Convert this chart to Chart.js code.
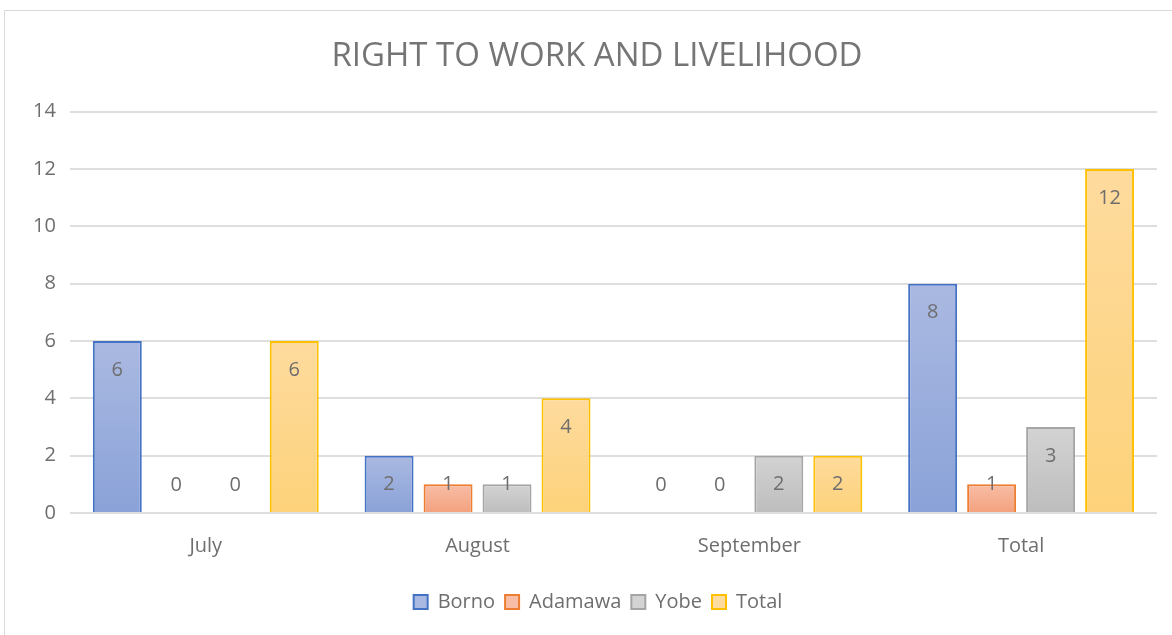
<!DOCTYPE html>
<html>
<head>
<meta charset="utf-8">
<script src="https://cdn.jsdelivr.net/npm/chart.js@4"></script>
<style>
  html, body { margin: 0; padding: 0; background: #fff; }
  #wrap { width: 1172px; height: 635px; position: relative; }
</style>
</head>
<body>
<div id="wrap"><canvas id="chart"></canvas></div>
<script>
const categories = ['July', 'August', 'September', 'Total'];
const seriesNames = ['Borno', 'Adamawa', 'Yobe', 'Total'];
const bornoValues = [6, 2, 0, 8];
const adamawaValues = [0, 1, 0, 1];
const yobeValues = [0, 1, 2, 3];
const totalValues = [6, 4, 2, 12];
const yTicks = [0, 2, 4, 6, 8, 10, 12, 14];

const FONT = "'Open Sans', sans-serif";
const TEXT = '#6e6e6e';

// top colour, bottom colour, border
const palette = [
    ['#aab9e1', '#8aa2d8', '#4472c4'],
    ['#f7bda5', '#f4a17e', '#ed7d31'],
    ['#d3d3d3', '#bdbdbd', '#a5a5a5'],
    ['#fedb9e', '#fdd27a', '#ffc000']
];

function barGradient(idx) {
    return function(ctx) {
        const chart = ctx.chart;
        const y = chart.scales.y;
        if (!y || ctx.raw === undefined) return palette[idx][1];
        const top = y.getPixelForValue(ctx.raw);
        const base = y.getPixelForValue(0);
        if (base - top < 1) return palette[idx][1];
        const g = chart.ctx.createLinearGradient(0, top, 0, base);
        g.addColorStop(0, palette[idx][0]);
        g.addColorStop(1, palette[idx][1]);
        return g;
    };
}

const allValues = [bornoValues, adamawaValues, yobeValues, totalValues];

const frame = {
    id: 'frame',
    beforeDraw(chart) {
        const c = chart.ctx;
        c.save();
        c.strokeStyle = '#d9d9d9';
        c.lineWidth = 1;
        c.beginPath();
        c.moveTo(4.5, 700);
        c.lineTo(4.5, 10.5);
        c.lineTo(1200, 10.5);
        c.stroke();
        c.restore();
    }
};

// the original frame runs past the right edge, so title and legend sit a bit right of centre
const nudge = {
    id: 'nudge',
    afterLayout(chart) {
        const t = chart.titleBlock;
        if (t) { t.left += 9; t.right += 9; }
        const l = chart.legend;
        if (l) { l.left += 10; l.right += 10; }
    }
};

const barLabels = {
    id: 'barLabels',
    afterDatasetsDraw(chart) {
        const c = chart.ctx;
        c.save();
        c.font = "20px " + FONT;
        c.fillStyle = TEXT;
        c.textAlign = 'center';
        c.textBaseline = 'middle';
        chart.data.datasets.forEach((ds, i) => {
            const meta = chart.getDatasetMeta(i);
            meta.data.forEach((bar, j) => {
                const y = Math.min(bar.y + 29, bar.base - 28);
                c.fillText(String(ds.data[j]), bar.x, y);
            });
        });
        c.restore();
    }
};

new Chart(document.getElementById('chart'), {
    type: 'bar',
    data: {
        labels: categories,
        datasets: seriesNames.map((name, i) => ({
            label: name,
            data: allValues[i],
            backgroundColor: barGradient(i),
            borderColor: palette[i][2],
            borderWidth: 2,
            borderSkipped: 'bottom',
            categoryPercentage: 0.868,
            barPercentage: 0.83
        }))
    },
    options: {
        responsive: true,
        maintainAspectRatio: false,
        animation: false,
        layout: { padding: { left: 19, right: 15, top: 0, bottom: 13 } },
        plugins: {
            title: {
                display: true,
                text: 'RIGHT TO WORK AND LIVELIHOOD',
                color: '#757575',
                font: { family: FONT, size: 33, weight: 'normal' },
                padding: { top: 37, bottom: 35 }
            },
            legend: {
                position: 'bottom',
                labels: {
                    color: TEXT,
                    boxWidth: 14,
                    boxHeight: 14,
                    padding: 10,
                    font: { family: FONT, size: 20 },
                    generateLabels(chart) {
                        return seriesNames.map((name, i) => ({
                            text: name,
                            fillStyle: palette[i][0],
                            strokeStyle: palette[i][2],
                            lineWidth: 2,
                            fontColor: TEXT,
                            datasetIndex: i
                        }));
                    }
                }
            },
            tooltip: { enabled: false }
        },
        scales: {
            x: {
                grid: { display: false },
                border: { display: false },
                ticks: { color: TEXT, font: { family: FONT, size: 20 }, padding: 13 },
                afterFit(scale) { scale.height += 11; }
            },
            y: {
                min: 0,
                max: 14,
                afterBuildTicks(scale) {
                    scale.ticks = yTicks.map(v => ({ value: v }));
                },
                grid: { color: '#dedede', lineWidth: 2, drawTicks: false },
                border: { display: false },
                ticks: { color: TEXT, font: { family: FONT, size: 20 }, padding: 14 }
            }
        }
    },
    plugins: [frame, nudge, barLabels]
});
</script>
</body>
</html>
